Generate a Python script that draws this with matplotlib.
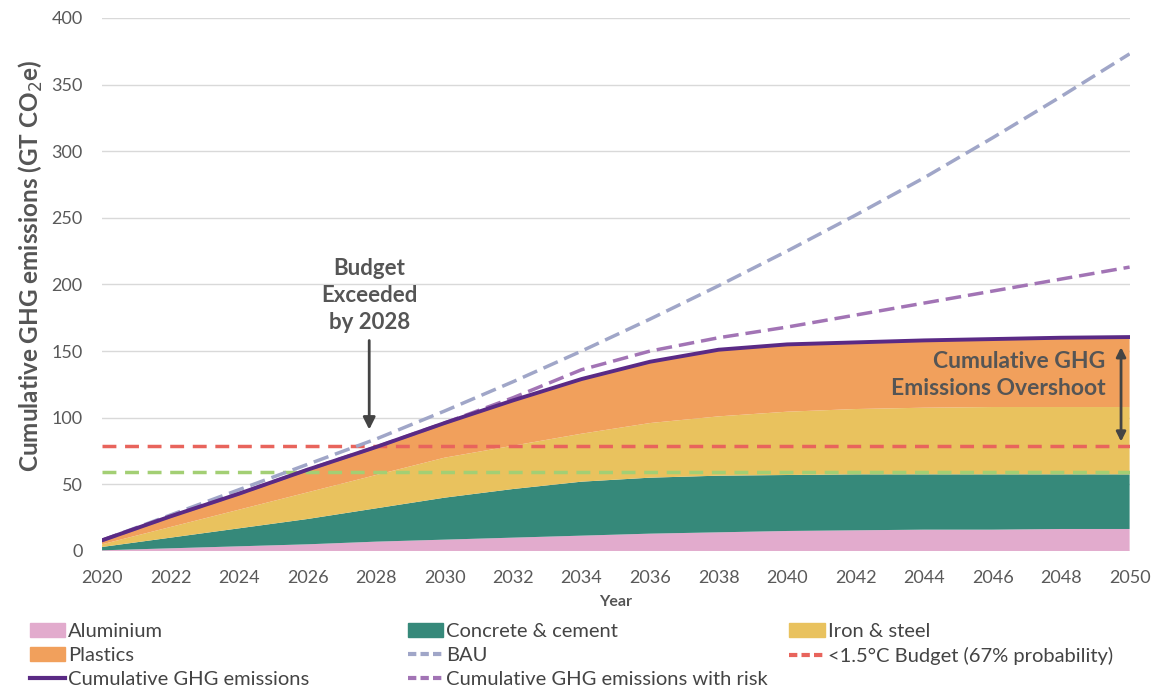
import numpy as np
import matplotlib.pyplot as plt
from matplotlib.patches import Patch
from matplotlib.lines import Line2D

plt.rcParams['font.family'] = ['Lato', 'DejaVu Sans']

years = np.arange(2020, 2051, 2)
aluminium = [0.5, 2, 3.5, 5, 7, 8.5, 10, 11.5, 13, 14, 15, 15.5, 16, 16, 16.5, 16.5]
concrete = [2.5, 8, 13.5, 19, 25, 31.5, 36.5, 40.5, 42, 42.5, 42, 42, 41.5, 41.5, 41, 41]
iron_steel = [2, 8, 14, 20, 25, 30, 32.5, 36, 41, 44.5, 47.5, 49, 50, 50.5, 50.5, 50.5]
plastics = [3, 8, 12, 17, 21, 26, 34, 41, 46, 50, 50.5, 50, 50.5, 51, 52, 52.5]
bau = [8, 27, 46, 65, 84, 105, 127, 150, 174, 199, 225, 252, 280, 310, 341, 373]
with_risk = [8, 26, 43, 61, 78, 96, 115, 136, 150, 160, 168, 177, 186, 195, 204, 213]
budget_15 = 79
budget_green = 59

total = np.array(aluminium) + np.array(concrete) + np.array(iron_steel) + np.array(plastics)

c_alu = '#E2ABCD'
c_con = '#36897A'
c_iron = '#E9C25E'
c_pla = '#F1A05C'
c_bau = '#A0A6C8'
c_red = '#E8645C'
c_green = '#A3CF74'
c_tot = '#5A2A85'
c_risk = '#A274B5'
c_txt = '#555555'

fig = plt.figure(figsize=(11.73, 6.87), dpi=100)
ax = fig.add_axes([0.087, 0.198, 0.876, 0.776])

ax.stackplot(years, aluminium, concrete, iron_steel, plastics,
             colors=[c_alu, c_con, c_iron, c_pla], linewidth=0, zorder=2)
ax.plot(years, total, color=c_tot, lw=2.8, zorder=5)
ax.plot(years, bau, color=c_bau, lw=2.5, ls=(0, (4.5, 2)), zorder=4)
ax.plot(years, with_risk, color=c_risk, lw=2.5, ls=(0, (4.5, 2)), zorder=4)
ax.axhline(budget_15, color=c_red, lw=2.5, ls=(0, (4, 2.5)), zorder=3)
ax.axhline(budget_green, color=c_green, lw=2.5, ls=(0, (4, 2.5)), zorder=3)

ax.set_xlim(2020, 2050)
ax.set_ylim(0, 400)
ax.set_xticks(np.arange(2020, 2051, 2))
ax.set_yticks(np.arange(0, 401, 50))
ax.grid(axis='y', color='#D9D9D9', lw=1, zorder=0)
ax.set_axisbelow(True)
for s in ax.spines.values():
    s.set_visible(False)
ax.tick_params(length=0, labelsize=13, labelcolor='#595959')
ax.tick_params(axis='x', pad=14)
ax.tick_params(axis='y', pad=14)
ax.set_xlabel('Year', fontsize=11.5, fontweight='bold', color=c_txt, labelpad=6)
ax.set_ylabel('Cumulative GHG emissions (GT CO$_2$e)', fontsize=17.5,
              fontweight='bold', color=c_txt)
ax.yaxis.set_label_coords(-0.056, 0.535)

ax.text(2027.8, 220, 'Budget\nExceeded\nby 2028', ha='center', va='top',
        fontsize=16, fontweight='bold', color=c_txt, linespacing=1.35)
ax.annotate('', xy=(2027.8, 89), xytext=(2027.8, 160),
            arrowprops=dict(arrowstyle='-|>', color='#444444', lw=2,
                            mutation_scale=18))
ax.text(2049.3, 132, 'Cumulative GHG\nEmissions Overshoot', ha='right', va='center',
        fontsize=16.5, fontweight='bold', color=c_txt, linespacing=1.3, zorder=6)
ax.annotate('', xy=(2049.75, 155), xytext=(2049.75, 80),
            arrowprops=dict(arrowstyle='<|-|>', color='#444444', lw=2,
                            mutation_scale=14), zorder=6)

leg_kw = dict(loc='upper left', frameon=False, fontsize=14.5, handlelength=1.75,
              handletextpad=0.15, labelspacing=0.33, labelcolor='#444444',
              borderaxespad=0, borderpad=0)
col1 = [Patch(color=c_alu), Patch(color=c_pla), Line2D([], [], color=c_tot, lw=3)]
fig.legend(col1, ['Aluminium', 'Plastics', 'Cumulative GHG emissions'],
           bbox_to_anchor=(0.0256, 0.093), **leg_kw)
col2 = [Patch(color=c_con), Line2D([], [], color=c_bau, lw=3, ls=(0, (2, 1))),
        Line2D([], [], color=c_risk, lw=3, ls=(0, (2, 1)))]
fig.legend(col2, ['Concrete & cement', 'BAU', 'Cumulative GHG emissions with risk'],
           bbox_to_anchor=(0.348, 0.093), **leg_kw)
col3 = [Patch(color=c_iron), Line2D([], [], color=c_red, lw=3, ls=(0, (2, 1)))]
fig.legend(col3, ['Iron & steel', '<1.5°C Budget (67% probability)'],
           bbox_to_anchor=(0.673, 0.093), **leg_kw)

fig.savefig('out.png', dpi=100, facecolor='white')
